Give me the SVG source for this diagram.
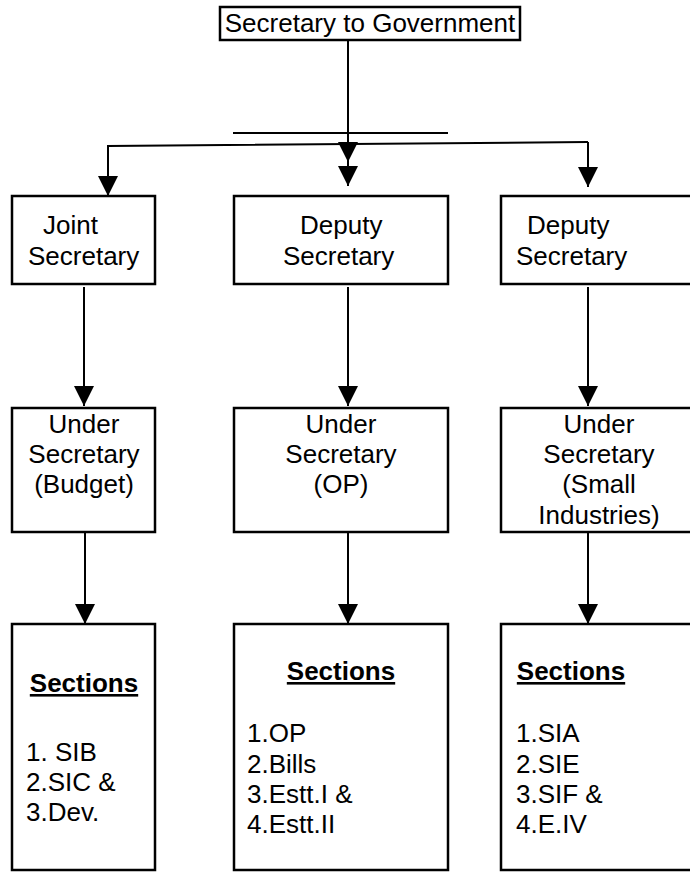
<svg xmlns="http://www.w3.org/2000/svg" width="690" height="872" viewBox="0 0 690 872">
<defs>
<marker id="arr" markerUnits="userSpaceOnUse" markerWidth="20" markerHeight="20" refX="20" refY="10" orient="auto" viewBox="0 0 20 20">
<path d="M0,0 L20,10 L0,20 z" fill="#000"/>
</marker>
</defs>
<style>
text{font-family:"Liberation Sans",Arial,sans-serif;font-size:26px;fill:#000}
.box{fill:#fff;stroke:#000;stroke-width:2.5}
.c{text-anchor:middle}
.b{font-weight:bold}
.ln{fill:none;stroke:#000;stroke-width:2}
.ar{fill:none;stroke:#000;stroke-width:2;marker-end:url(#arr)}
</style>
<rect width="690" height="872" fill="#fff"/>
<g id="connectors">
<path class="ar" d="M348,40 V162"/>
<path class="ar" d="M348,160 V186"/>
<path class="ln" d="M233,133 H448"/>
<path class="ar" d="M588,142 L108,146 V196"/>
<path class="ar" d="M588,142 V187"/>
<path class="ar" d="M84,287 V406"/>
<path class="ar" d="M348,287 V406"/>
<path class="ar" d="M588,287 V406"/>
<path class="ar" d="M85,527 V624"/>
<path class="ar" d="M348,525 V624"/>
<path class="ar" d="M588,525 V624"/>
</g>
<g id="secretary">
<rect class="box" x="220" y="7" width="300" height="33" stroke-width="2"/>
<text class="c" x="370" y="32">Secretary to Government</text>
</g>
<g id="joint-secretary">
<rect class="box" x="12" y="196" width="143" height="88"/>
<text x="43" y="234">Joint</text>
<text x="28" y="265">Secretary</text>
</g>
<g id="deputy-secretary-1">
<rect class="box" x="234" y="196" width="214" height="88"/>
<text x="300" y="234">Deputy</text>
<text x="283" y="265">Secretary</text>
</g>
<g id="deputy-secretary-2">
<rect class="box" x="501" y="196" width="192" height="88"/>
<text x="527" y="234">Deputy</text>
<text x="516" y="265">Secretary</text>
</g>
<g id="under-secretary-budget">
<rect class="box" x="12" y="408" width="143" height="124"/>
<text class="c" x="84" y="433">Under</text>
<text class="c" x="84" y="463">Secretary</text>
<text class="c" x="84" y="493">(Budget)</text>
</g>
<g id="under-secretary-op">
<rect class="box" x="234" y="408" width="214" height="124"/>
<text class="c" x="341" y="433">Under</text>
<text class="c" x="341" y="463">Secretary</text>
<text class="c" x="341" y="493">(OP)</text>
</g>
<g id="under-secretary-si">
<rect class="box" x="501" y="408" width="192" height="124"/>
<text class="c" x="599" y="433">Under</text>
<text class="c" x="599" y="463">Secretary</text>
<text class="c" x="599" y="493">(Small</text>
<text class="c" x="599" y="524">Industries)</text>
</g>
<g id="sections-budget">
<rect class="box" x="12" y="624" width="143" height="246"/>
<text class="c b" x="84" y="692" text-decoration="underline">Sections</text>
<text x="26" y="761">1. SIB</text>
<text x="26" y="791">2.SIC &amp;</text>
<text x="26" y="821">3.Dev.</text>
</g>
<g id="sections-op">
<rect class="box" x="234" y="624" width="214" height="246"/>
<text class="c b" x="341" y="680" text-decoration="underline">Sections</text>
<text x="247" y="742">1.OP</text>
<text x="247" y="773">2.Bills</text>
<text x="247" y="803">3.Estt.I &amp;</text>
<text x="247" y="833">4.Estt.II</text>
</g>
<g id="sections-si">
<rect class="box" x="501" y="624" width="192" height="246"/>
<text class="c b" x="571" y="680" text-decoration="underline">Sections</text>
<text x="516" y="742">1.SIA</text>
<text x="516" y="773">2.SIE</text>
<text x="516" y="803">3.SIF &amp;</text>
<text x="516" y="833">4.E.IV</text>
</g>
</svg>
